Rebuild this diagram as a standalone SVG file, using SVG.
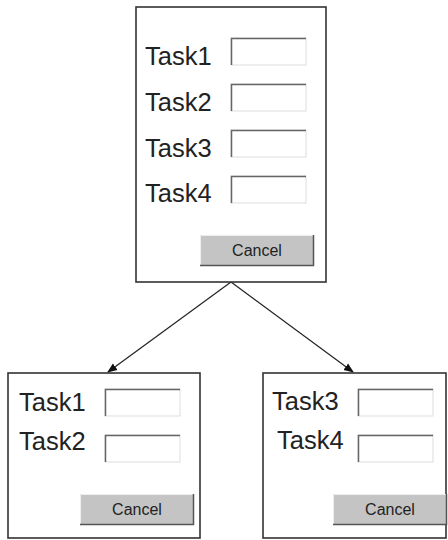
<svg xmlns="http://www.w3.org/2000/svg" width="448" height="540" viewBox="0 0 448 540">
<style>
.frame{fill:#fff;stroke:#333;stroke-width:1.6}
.lbl{font-family:"Liberation Sans",Arial,sans-serif;font-size:25.5px;fill:#222}
.field{fill:#fff;stroke:#ddd;stroke-width:1}
.fedge{fill:none;stroke:#666;stroke-width:1.5}
.btn{fill:#c4c4c4;stroke:none}
.bdark{fill:none;stroke:#555;stroke-width:1.5}
.blight{fill:none;stroke:#eee;stroke-width:1}
.btxt{font-family:"Liberation Sans",Arial,sans-serif;font-size:16px;fill:#222;text-anchor:middle}
.conn{stroke:#222;stroke-width:1.2;fill:none;marker-end:url(#ah)}
</style>
<defs>
<marker id="ah" viewBox="0 0 10 10" refX="9" refY="5" markerWidth="10" markerHeight="10" markerUnits="userSpaceOnUse" orient="auto">
<path d="M0,1 L10,5 L0,9 z" fill="#111"/>
</marker>
<g id="fieldT">
<rect class="field" x="0" y="0" width="75" height="27"/>
<path class="fedge" d="M0.5,27 V0.5 H75"/>
</g>
<g id="btnT">
<rect class="btn" x="0" y="0" width="114" height="31"/>
<path class="blight" d="M0.5,31 V0.5 H114"/>
<path class="bdark" d="M0,30.5 H113.5 V0"/>
</g>
</defs>
<g id="connectors">
<path class="conn" d="M231,282 L108,372"/>
<path class="conn" d="M231,282 L353,372"/>
</g>
<g id="top-dialog">
<rect class="frame" x="136" y="7" width="190" height="275"/>
<text class="lbl" x="145" y="65">Task1</text>
<text class="lbl" x="145" y="111">Task2</text>
<text class="lbl" x="145" y="157">Task3</text>
<text class="lbl" x="145" y="202">Task4</text>
<use href="#fieldT" x="231" y="38"/>
<use href="#fieldT" x="231" y="84"/>
<use href="#fieldT" x="231" y="130"/>
<use href="#fieldT" x="231" y="176"/>
<use href="#btnT" x="200" y="235"/>
<text class="btxt" x="257" y="256">Cancel</text>
</g>
<g id="left-dialog">
<rect class="frame" x="8" y="373" width="192" height="165"/>
<text class="lbl" x="19" y="411">Task1</text>
<text class="lbl" x="19" y="450">Task2</text>
<use href="#fieldT" x="105" y="389"/>
<use href="#fieldT" x="105" y="435"/>
<use href="#btnT" x="80" y="494"/>
<text class="btxt" x="137" y="515">Cancel</text>
</g>
<g id="right-dialog">
<rect class="frame" x="263" y="373" width="183" height="165"/>
<text class="lbl" x="272" y="410">Task3</text>
<text class="lbl" x="277" y="449">Task4</text>
<use href="#fieldT" x="358" y="389"/>
<use href="#fieldT" x="358" y="435"/>
<use href="#btnT" x="333" y="494"/>
<text class="btxt" x="390" y="515">Cancel</text>
</g>
</svg>
